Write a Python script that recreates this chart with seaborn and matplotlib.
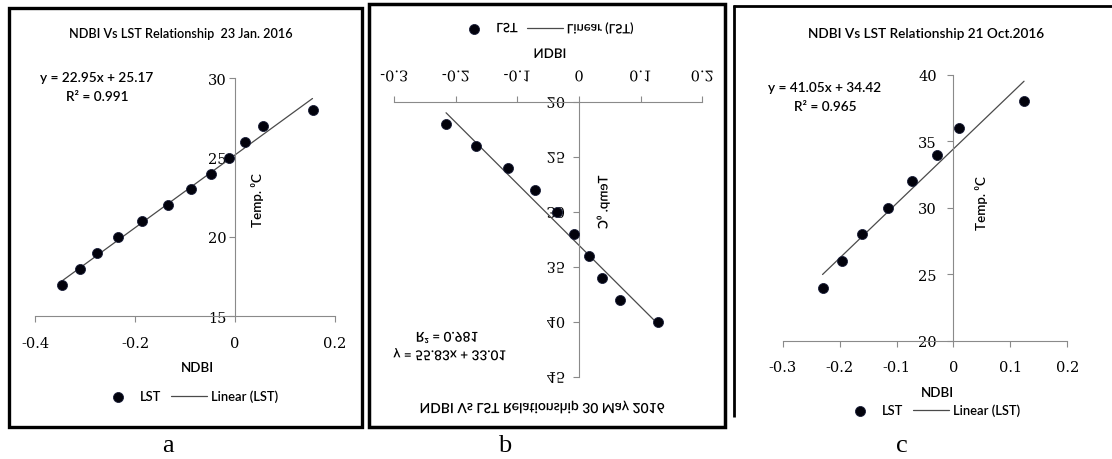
import numpy as np
import pandas as pd
import matplotlib
matplotlib.use("Agg")
import matplotlib.pyplot as plt
import seaborn as sns
from matplotlib.patheffects import AbstractPathEffect
from matplotlib.transforms import Affine2D
from matplotlib.patches import Rectangle
from matplotlib.lines import Line2D

# ---------------- data ----------------
ndbi_a = [-0.347, -0.310, -0.277, -0.235, -0.186, -0.135, -0.088, -0.048, -0.013, 0.019, 0.055, 0.155]
lst_a = [17, 18, 19, 20, 21, 22, 23, 24, 25, 26, 27, 28]
slope_a, icpt_a, r2_a = 22.95, 25.17, "0.991"
title_a = "NDBI Vs LST Relationship  23 Jan. 2016"

ndbi_b = [-0.216, -0.168, -0.116, -0.072, -0.036, -0.009, 0.016, 0.037, 0.067, 0.128]
lst_b = [22, 24, 26, 28, 30, 32, 34, 36, 38, 40]
slope_b, icpt_b, r2_b = 55.83, 33.01, "0.981"
title_b = "NDBI Vs LST Relationship 30 May 2016"

ndbi_c = [-0.230, -0.196, -0.161, -0.115, -0.072, -0.029, 0.009, 0.124]
lst_c = [24, 26, 28, 30, 32, 34, 36, 38]
slope_c, icpt_c, r2_c = 41.05, 34.42, "0.965"
title_c = "NDBI Vs LST Relationship 21 Oct.2016"

xticks_a = [-0.4, -0.2, 0, 0.2]
yticks_a = [15, 20, 25, 30]
xticks_b = [-0.3, -0.2, -0.1, 0, 0.1, 0.2]
yticks_b = [20, 25, 30, 35, 40, 45]
xticks_c = [-0.3, -0.2, -0.1, 0, 0.1, 0.2]
yticks_c = [20, 25, 30, 35, 40]
panel_letters = ["a", "b", "c"]

# ---------------- style ----------------
sns.set_theme(style="white")
plt.rcParams['font.family'] = ['Lato', 'DejaVu Sans']

W, H = 1112, 460
fig = plt.figure(figsize=(W / 100, H / 100), dpi=100)
fig.patch.set_facecolor("white")

AXIS_C = "#8a8a8a"
TXT_C = "#000000"
LINE_C = "#4a4a4a"
PT_C = "#02020c"
WEIGHT = "semibold"
EQ_FS = 9.8
LAB_FS = 9.6
LEG_FS = 9.3


def fx(px):
    return px / W


def fy(py):
    return 1 - py / H


class VFlip(AbstractPathEffect):
    """Mirror the glyphs of a text vertically about their own centre."""

    def draw_path(self, renderer, gc, tpath, affine, rgbFace=None):
        ext = tpath.get_extents(affine)
        if not np.all(np.isfinite([ext.y0, ext.y1])):
            renderer.draw_path(gc, tpath, affine, rgbFace)
            return
        cy = 0.5 * (ext.y0 + ext.y1)
        flip = affine + Affine2D().translate(0, -cy).scale(1, -1).translate(0, cy)
        renderer.draw_path(gc, tpath, flip, rgbFace)


def ftext(px, py, s, flip=False, **kw):
    kw.setdefault("color", TXT_C)
    kw.setdefault("fontsize", 9)
    kw.setdefault("fontweight", WEIGHT)
    kw.setdefault("ha", "center")
    kw.setdefault("va", "center")
    t = fig.text(fx(px), fy(py), s, **kw)
    if flip:
        t.set_path_effects([VFlip()])
    return t


def panel(box, x, y, slope, icpt, xlim, ylim, xticks, yticks, flipped,
          xpad, ypad, legend_xy):
    left, right, top, bottom = box
    ax = fig.add_axes([fx(left), fy(bottom), fx(right - left), (bottom - top) / H])
    df = pd.DataFrame({"NDBI": x, "LST": y})
    xs = np.array([min(x), max(x)])
    fit = pd.DataFrame({"NDBI": xs, "Fit": slope * xs + icpt})
    sns.lineplot(data=fit, x="NDBI", y="Fit", ax=ax, color=LINE_C, lw=0.9,
                 label="Linear (LST)", zorder=2)
    sns.scatterplot(data=df, x="NDBI", y="LST", ax=ax, s=52, color=PT_C,
                    edgecolor="#1a1f3a", linewidth=0.6, label="LST", zorder=3,
                    clip_on=False)
    if ax.get_legend() is not None:
        ax.get_legend().remove()
    ax.set_facecolor("none")
    ax.set_xlim(xlim)
    if flipped:
        ax.set_ylim(ylim[1], ylim[0])
    else:
        ax.set_ylim(ylim)
    ax.set_xticks(xticks)
    ax.set_yticks(yticks)
    ax.set_xticklabels([f"{v:g}" for v in xticks])
    ax.set_yticklabels([f"{v:g}" for v in yticks])
    ax.set_xlabel("")
    ax.set_ylabel("")
    for s in ax.spines.values():
        s.set_color(AXIS_C)
        s.set_linewidth(0.8)
    ax.spines["right"].set_visible(False)
    ax.spines["left"].set_position(("data", 0))
    if flipped:
        ax.spines["bottom"].set_visible(False)
        ax.xaxis.tick_top()
    else:
        ax.spines["top"].set_visible(False)
        ax.xaxis.tick_bottom()
    ax.yaxis.tick_left()
    ax.tick_params(axis="x", direction="out", length=4, width=0.8, color=AXIS_C,
                   pad=xpad, labelsize=10.5, labelcolor=TXT_C,
                   labelfontfamily="DejaVu Serif")
    ax.tick_params(axis="y", direction="out", length=4, width=0.8, color=AXIS_C,
                   pad=ypad, labelsize=10.5, labelcolor=TXT_C,
                   labelfontfamily="DejaVu Serif")
    if flipped:
        for lbl in ax.get_xticklabels() + ax.get_yticklabels():
            lbl.set_path_effects([VFlip()])
    # legend
    handles, labels = ax.get_legend_handles_labels()
    order = [labels.index("LST"), labels.index("Linear (LST)")]
    leg = ax.legend([handles[i] for i in order], [labels[i] for i in order],
                    loc="center", bbox_to_anchor=(fx(legend_xy[0]), fy(legend_xy[1])),
                    bbox_transform=fig.transFigure, ncol=2, frameon=False,
                    prop={"size": LEG_FS, "weight": WEIGHT},
                    handlelength=2.8, handletextpad=0.3,
                    columnspacing=0.7, borderpad=0, borderaxespad=0)
    for t in leg.get_texts():
        t.set_color(TXT_C)
        if flipped:
            t.set_path_effects([VFlip()])
    return ax


# ---------------- panel a ----------------
panel((35, 335, 79.3, 317.3), ndbi_a, lst_a, slope_a, icpt_a, (-0.4, 0.2), (15, 30),
      xticks_a, yticks_a, False, 10, 2, (189, 397))
ftext(181, 34, title_a, fontsize=9.1)
ftext(97, 78, f"y = {slope_a}x + {icpt_a}", fontsize=EQ_FS)
ftext(97, 97, f"R² = {r2_a}", fontsize=EQ_FS)
ftext(197, 368, "NDBI", fontsize=LAB_FS)
ftext(258, 200, "Temp. ⁰C", rotation=90, fontsize=LAB_FS)

# ---------------- panel b (vertically mirrored in the source) ----------------
panel((394.3, 702.3, 103.3, 378.3), ndbi_b, lst_b, slope_b, icpt_b, (-0.3, 0.2), (20, 45),
      xticks_b, yticks_b, True, 9, 6, (545, 29))
ftext(542, 408, title_b, flip=True, fontsize=10)
ftext(447, 340, f"R² = {r2_b}", flip=True, fontsize=EQ_FS)
ftext(450, 355, f"y = {slope_b}x + {icpt_b}", flip=True, fontsize=EQ_FS)
ftext(550, 55, "NDBI", flip=True, fontsize=LAB_FS)
ftext(603, 203, "Temp. ⁰C", rotation=90, flip=True, fontsize=LAB_FS)

# ---------------- panel c ----------------
panel((782.7, 1067.3, 75.7, 341.7), ndbi_c, lst_c, slope_c, icpt_c, (-0.3, 0.2), (20, 40),
      xticks_c, yticks_c, False, 10, 8, (931, 411))
ftext(926, 34, title_c, fontsize=9.8)
ftext(825, 88, f"y = {slope_c}x + {icpt_c}", fontsize=EQ_FS)
ftext(825, 107, f"R² = {r2_c}", fontsize=EQ_FS)
ftext(937, 393, "NDBI", fontsize=LAB_FS)
ftext(982, 203, "Temp. ⁰C", rotation=90, fontsize=LAB_FS)

# ---------------- frames ----------------
def frame(x0, y0, x1, y1, lw):
    fig.add_artist(Rectangle((fx(x0), fy(y1)), (x1 - x0) / W, (y1 - y0) / H,
                             transform=fig.transFigure, fill=False, ec="black",
                             lw=lw, joinstyle="miter"))


frame(8.7, 8.7, 362.3, 427.6, 2.4)
frame(368.8, 4.8, 725.2, 428.4, 2.5)
fig.add_artist(Line2D([fx(733), fx(1112)], [fy(7.3), fy(7.3)], transform=fig.transFigure,
                      color="black", lw=2.0, solid_capstyle="butt"))
fig.add_artist(Line2D([fx(734.2), fx(734.2)], [fy(6), fy(418)], transform=fig.transFigure,
                      color="black", lw=2.0, solid_capstyle="butt"))

# panel letters
for letter, px in zip(panel_letters, [168, 505, 902]):
    ftext(px, 446, letter, fontsize=19, family="Liberation Serif", color="black",
          fontweight="normal")

fig.savefig("out.png", dpi=100, facecolor="white")
